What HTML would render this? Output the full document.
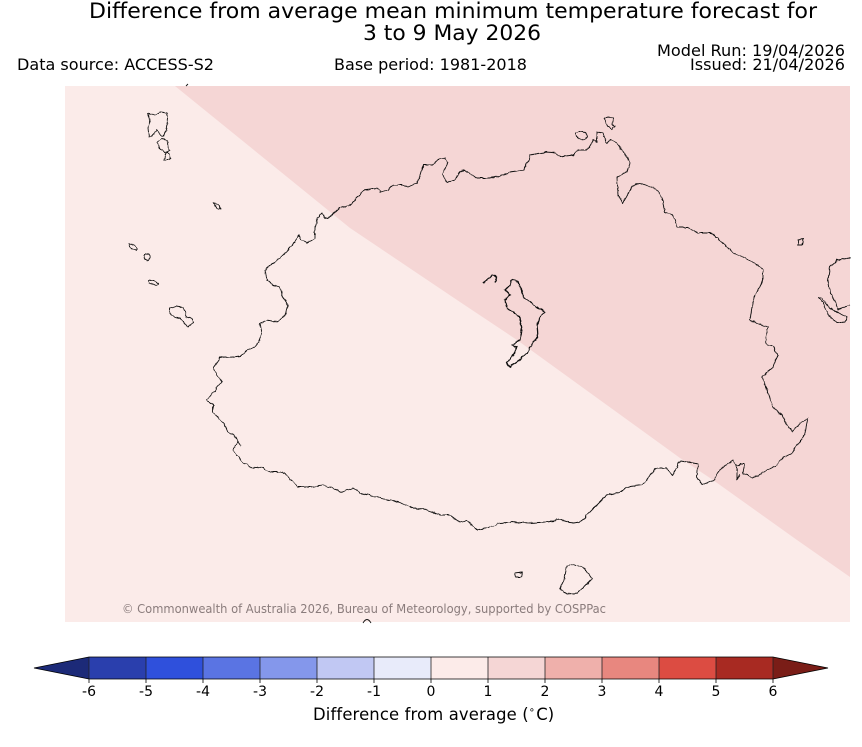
<!DOCTYPE html>
<html>
<head>
<meta charset="utf-8">
<style>
html,body{margin:0;padding:0;background:#fff;}
svg{display:block;}
text{font-family:"DejaVu Sans","Liberation Sans",sans-serif;fill:#000;}
</style>
</head>
<body>
<svg width="862" height="747" viewBox="0 0 862 747" xmlns="http://www.w3.org/2000/svg">
<defs>
<filter id="jag" x="-5%" y="-5%" width="110%" height="110%">
<feTurbulence type="fractalNoise" baseFrequency="0.18" numOctaves="2" seed="3" result="n"/>
<feDisplacementMap in="SourceGraphic" in2="n" scale="3.2" xChannelSelector="R" yChannelSelector="G"/>
</filter>
</defs>
<rect x="0" y="0" width="862" height="747" fill="#ffffff"/>

<!-- Titles -->
<text x="89" y="18" font-size="21" textLength="728" lengthAdjust="spacingAndGlyphs">Difference from average mean minimum temperature forecast for</text>
<text x="363" y="40" font-size="21" textLength="178" lengthAdjust="spacingAndGlyphs">3 to 9 May 2026</text>
<text x="17" y="70" font-size="16" textLength="197" lengthAdjust="spacingAndGlyphs">Data source: ACCESS-S2</text>
<text x="334" y="70" font-size="16" textLength="193" lengthAdjust="spacingAndGlyphs">Base period: 1981-2018</text>
<text x="657" y="56" font-size="16" textLength="188" lengthAdjust="spacingAndGlyphs">Model Run: 19/04/2026</text>
<text x="690" y="70" font-size="16" textLength="155" lengthAdjust="spacingAndGlyphs">Issued: 21/04/2026</text>

<!-- Map background -->
<rect x="65" y="86" width="785" height="536" fill="#fbebe9"/>
<polygon points="175,86 850,86 850,577 797,540 713,480 680,458 517,340 460,302 350,228" fill="#f5d6d5"/>

<!-- Coastlines -->
<g fill="none" stroke="#111" stroke-width="0.9" stroke-linejoin="round" filter="url(#jag)">
<path d="M220,358 L233,357 L240,356 L247,350 L255,347 L258,343 L262,333 L260,323 L267,320 L277,322 L285,315 L288,305 L283,297 L280,287 L273,285 L267,280 L265,270 L270,265 L280,258 L290,248 L300,235 L300,240 L307,243 L315,238 L315,228 L318,217 L322,213 L325,218 L330,217 L340,208 L350,205 L360,195 L363,190 L377,188 L380,192 L388,190 L393,185 L403,185 L408,187 L417,183 L420,175 L423,165 L432,165 L437,160 L445,158 L447,163 L442,175 L448,182 L455,180 L460,172 L463,170 L473,175 L477,178 L490,178 L505,175 L510,172 L523,170 L528,162 L530,155 L547,152 L555,153 L560,157 L573,155 L578,150 L587,150 L593,140 L597,142 L597,132 L603,133 L607,143 L610,140 L617,143 L622,150 L627,157 L630,163 L627,172 L617,177 L618,195 L623,203 L627,195 L632,187 L640,183 L658,190 L663,203 L665,212 L673,215 L677,227 L687,227 L697,233 L712,233 L723,243 L733,253 L753,262 L763,270 L763,280 L753,300 L750,320 L768,327 L765,343 L773,347 L778,355 L773,367 L767,372 L762,377 L767,390 L770,400 L773,407 L782,415 L787,425 L792,432 L800,423 L808,418 L805,433 L800,442 L795,448 L792,453 L783,458 L777,465 L763,472 L753,478 L743,473 L745,463 L740,463 L737,467 L733,460 L723,467 L713,480 L702,485 L697,477 L698,464 L688,462 L680,461 L677,467 L672,475 L667,468 L657,468 L647,478 L643,485 L627,487 L620,492 L607,495 L605,497 L597,505 L587,515 L580,522 L573,523 L560,520 L547,522 L530,523 L513,522 L500,523 L487,528 L477,530 L467,520 L460,522 L450,515 L440,515 L427,510 L413,508 L398,502 L387,500 L373,496 L360,493 L353,488 L343,492 L333,488 L322,485 L310,487 L298,487 L292,480 L282,472 L272,472 L263,468 L250,467 L243,463 L233,450 L238,442 L235,435 L228,432 L225,425 L213,412 L213,405 L207,400 L215,390 L222,382 L217,375 L213,368 Z"/>
<path d="M737,467 L737,480 L740,474"/>
<path d="M238,442 L241,446"/>
<path stroke-width="1.3" d="M512,280 L518,282 L522,290 L523,297 L537,307 L545,312 L540,318 L537,325 L538,337 L533,342 L528,352 L520,360 L510,367 L507,363 L513,355 L517,347 L512,345 L520,340 L522,330 L520,317 L507,308 L505,300 L510,295 L505,290 L510,285 Z"/>
<path stroke-width="1.5" d="M483,283 L490,278 L493,275 L497,277 L495,282"/>
<path d="M148,113 L155,115 L160,112 L167,113 L168,118 L166,130 L164,137 L160,135 L157,130 L153,134 L149,137 L148,128 L150,120 Z"/>
<path d="M158,142 L162,139 L167,140 L168,147 L170,150 L165,153 L160,149 Z"/>
<path d="M165,155 L168,152 L171,159 L164,160 Z"/>
<path d="M214,203 L219,205 L221,209 L217,208 Z"/>
<path d="M129,243 L134,245 L137,248 L137,251 L133,249 L130,246 Z"/>
<circle cx="147" cy="257" r="3.3"/>
<path d="M148,280 L155,281 L158,283 L156,285 L149,283 Z"/>
<path d="M170,308 L176,306 L183,307 L185,312 L187,317 L193,319 L193,323 L188,327 L185,323 L180,318 L175,317 L170,313 Z"/>
<path d="M575,133 L580,131 L585,132 L587,137 L582,140 L576,137 Z"/>
<path d="M604,118 L609,117 L613,119 L612,124 L615,127 L612,130 L608,126 L606,122 Z"/>
<path d="M798,240 L803,239 L802,245 L798,245 Z"/>
<path d="M850,258 L838,260 L830,267 L828,280 L830,293 L835,302 L838,310 L845,307 L850,305"/>
<path d="M818,297 L823,302 L827,313 L837,323 L845,322 L847,317 L843,315 L833,310 L828,306 L822,298 Z"/>
<path d="M515,573 L522,572 L521,577 L516,577 Z"/>
<path d="M567,566 L574,564 L585,569 L592,579 L585,586 L578,593 L567,594 L560,588 L564,580 Z"/>
</g>
<path d="M186,86 L188,84" fill="none" stroke="#111" stroke-width="0.9"/>

<!-- Copyright -->
<text x="122" y="613" font-size="12" style="fill:#8a7c7c" textLength="484" lengthAdjust="spacingAndGlyphs">© Commonwealth of Australia 2026, Bureau of Meteorology, supported by COSPPac</text>
<path d="M363,623 Q367,616 371,623" fill="none" stroke="#111" stroke-width="0.9"/>

<!-- Colorbar -->
<polygon points="34,668 89,657 89,679" fill="#1c2a78"/>
<rect x="89" y="657" width="57" height="22" fill="#2a3fad"/>
<rect x="146" y="657" width="57" height="22" fill="#2f50dc"/>
<rect x="203" y="657" width="57" height="22" fill="#5a74e3"/>
<rect x="260" y="657" width="57" height="22" fill="#8497eb"/>
<rect x="317" y="657" width="57" height="22" fill="#c1c8f3"/>
<rect x="374" y="657" width="57" height="22" fill="#e8ebfa"/>
<rect x="431" y="657" width="57" height="22" fill="#fcebe9"/>
<rect x="488" y="657" width="57" height="22" fill="#f5d6d5"/>
<rect x="545" y="657" width="57" height="22" fill="#efb0ab"/>
<rect x="602" y="657" width="57" height="22" fill="#e8877f"/>
<rect x="659" y="657" width="57" height="22" fill="#dc4c42"/>
<rect x="716" y="657" width="57" height="22" fill="#a82a22"/>
<polygon points="773,657 828,668 773,679" fill="#7a1d17"/>
<g stroke="#222" stroke-width="0.8">
<line x1="146" y1="657" x2="146" y2="679"/>
<line x1="203" y1="657" x2="203" y2="679"/>
<line x1="260" y1="657" x2="260" y2="679"/>
<line x1="317" y1="657" x2="317" y2="679"/>
<line x1="374" y1="657" x2="374" y2="679"/>
<line x1="431" y1="657" x2="431" y2="679"/>
<line x1="488" y1="657" x2="488" y2="679"/>
<line x1="545" y1="657" x2="545" y2="679"/>
<line x1="602" y1="657" x2="602" y2="679"/>
<line x1="659" y1="657" x2="659" y2="679"/>
<line x1="716" y1="657" x2="716" y2="679"/>
<line x1="89" y1="657" x2="89" y2="679"/>
<line x1="773" y1="657" x2="773" y2="679"/>
</g>
<polygon points="34,668 89,657 773,657 828,668 773,679 89,679" fill="none" stroke="#000" stroke-width="0.8"/>
<g stroke="#000" stroke-width="0.8">
<line x1="89" y1="679" x2="89" y2="683"/><line x1="146" y1="679" x2="146" y2="683"/><line x1="203" y1="679" x2="203" y2="683"/><line x1="260" y1="679" x2="260" y2="683"/><line x1="317" y1="679" x2="317" y2="683"/><line x1="374" y1="679" x2="374" y2="683"/><line x1="431" y1="679" x2="431" y2="683"/><line x1="488" y1="679" x2="488" y2="683"/><line x1="545" y1="679" x2="545" y2="683"/><line x1="602" y1="679" x2="602" y2="683"/><line x1="659" y1="679" x2="659" y2="683"/><line x1="716" y1="679" x2="716" y2="683"/><line x1="773" y1="679" x2="773" y2="683"/>
</g>
<g font-size="14" text-anchor="middle">
<text x="89" y="696">-6</text>
<text x="146" y="696">-5</text>
<text x="203" y="696">-4</text>
<text x="260" y="696">-3</text>
<text x="317" y="696">-2</text>
<text x="374" y="696">-1</text>
<text x="431" y="696">0</text>
<text x="488" y="696">1</text>
<text x="545" y="696">2</text>
<text x="602" y="696">3</text>
<text x="659" y="696">4</text>
<text x="716" y="696">5</text>
<text x="773" y="696">6</text>
</g>
<text x="313" y="720" font-size="16.4" letter-spacing="0.15">Difference from average (<tspan font-size="10" dy="-7">∘</tspan><tspan dy="7" dx="1">C)</tspan></text>
</svg>
</body>
</html>
